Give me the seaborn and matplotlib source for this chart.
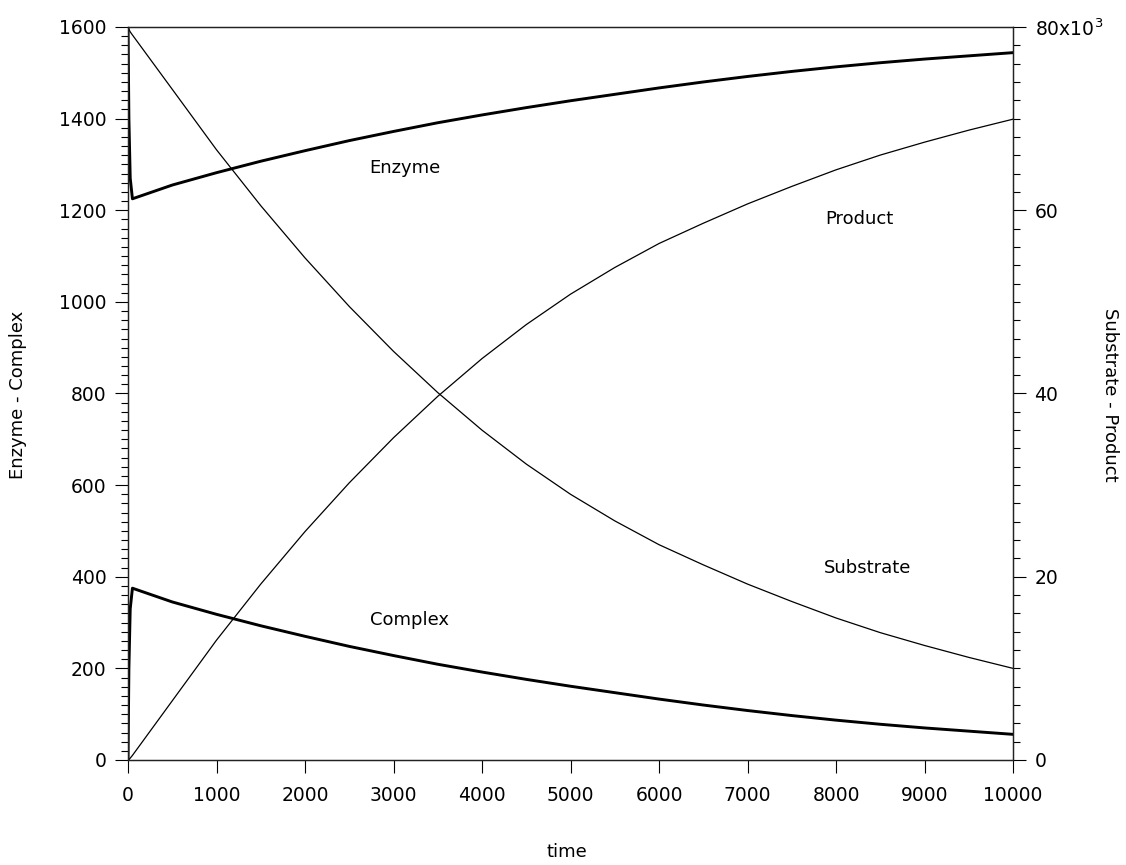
import matplotlib
matplotlib.use("Agg")
import matplotlib.pyplot as plt
from matplotlib.ticker import MultipleLocator, FixedLocator, FixedFormatter
import pandas as pd
import seaborn as sns

# Simulated enzyme kinetics: E + S <-> C -> E + P
time = [0, 10, 25, 50, 500, 1000, 1500, 2000, 2500, 3000, 3500, 4000,
        4500, 5000, 5500, 6000, 6500, 7000, 7500, 8000, 8500, 9000, 9500, 10000]
enzyme = [1600, 1400, 1270, 1225, 1255, 1282, 1307, 1330, 1352, 1372, 1391, 1408,
          1424, 1439, 1453, 1467, 1480, 1492, 1503, 1513, 1522, 1530, 1537, 1544]
complex_ = [0, 200, 330, 375, 345, 318, 293, 270, 248, 228, 209, 192,
            176, 161, 147, 133, 120, 108, 97, 87, 78, 70, 63, 56]
substrate = [80000, 79750, 79470, 79130, 73200, 66600, 60500, 54800, 49500, 44600,
             40100, 36000, 32300, 29000, 26100, 23500, 21300, 19200, 17300, 15500,
             13900, 12500, 11200, 10000]
product = [0, 50, 200, 500, 6460, 13080, 19200, 24930, 30250, 35170, 39690, 43810,
           47520, 50840, 53750, 56370, 58580, 60690, 62600, 64410, 66020, 67430,
           68740, 69940]

left_ticks = [0, 200, 400, 600, 800, 1000, 1200, 1400, 1600]
right_ticks = [0, 20000, 40000, 60000, 80000]
right_tick_labels = ["0", "20", "40", "60", r"80x10$^3$"]
x_ticks = [0, 1000, 2000, 3000, 4000, 5000, 6000, 7000, 8000, 9000, 10000]

curve_labels = ["Enzyme", "Product", "Substrate", "Complex"]
label_pos = [(3124, 1293), (8260, 1181), (8356, 419), (3186, 306)]

df = pd.DataFrame({"time": time, "enzyme": enzyme, "complex": complex_,
                   "substrate": substrate, "product": product})

sns.set_style("ticks")
plt.rcParams["font.family"] = ["DejaVu Sans"]
plt.rcParams["mathtext.fontset"] = "dejavusans"
plt.rcParams["text.color"] = "black"
plt.rcParams["axes.labelcolor"] = "black"
plt.rcParams["xtick.color"] = "black"
plt.rcParams["ytick.color"] = "black"

fig = plt.figure(figsize=(11.26, 8.65), dpi=100)
ax = fig.add_axes([0.11368, 0.12139, 0.78597, 0.84740])
ax2 = ax.twinx()

sns.lineplot(data=df, x="time", y="enzyme", ax=ax, color="black", lw=2.1,
             estimator=None, sort=False)
sns.lineplot(data=df, x="time", y="complex", ax=ax, color="black", lw=2.1,
             estimator=None, sort=False)
sns.lineplot(data=df, x="time", y="substrate", ax=ax2, color="black", lw=0.9,
             estimator=None, sort=False)
sns.lineplot(data=df, x="time", y="product", ax=ax2, color="black", lw=0.9,
             estimator=None, sort=False)

ax.set_xlim(0, 10000)
ax.set_ylim(0, 1600)
ax2.set_ylim(0, 80000)

ax.set_xlabel("")
ax.set_ylabel("")
ax2.set_ylabel("")

ax.xaxis.set_major_locator(FixedLocator(x_ticks))
ax.set_xticklabels([str(t) for t in x_ticks])
ax.yaxis.set_major_locator(FixedLocator(left_ticks))
ax.set_yticklabels([str(t) for t in left_ticks])
ax.yaxis.set_minor_locator(MultipleLocator(20))
ax2.yaxis.set_major_locator(FixedLocator(right_ticks))
ax2.yaxis.set_major_formatter(FixedFormatter(right_tick_labels))
ax2.yaxis.set_minor_locator(MultipleLocator(2000))

for a in (ax, ax2):
    for sp in a.spines.values():
        sp.set_visible(True)
        sp.set_linewidth(0.9)
        sp.set_color("#222222")

ax.tick_params(axis="x", which="major", direction="out", length=9.5, width=0.8,
               labelsize=13.5, pad=9, colors="black", top=False)
ax.tick_params(axis="y", which="major", direction="out", length=9.5, width=0.8,
               labelsize=13.5, pad=6, colors="black")
ax.tick_params(axis="y", which="minor", direction="out", length=5, width=0.8,
               colors="black")
ax2.tick_params(axis="y", which="major", direction="out", length=9.5, width=0.8,
                labelsize=13.5, pad=6, colors="black")
ax2.tick_params(axis="y", which="minor", direction="out", length=5, width=0.8,
                colors="black")

for text, (tx, ty) in zip(curve_labels, label_pos):
    ax.text(tx, ty, text, ha="center", va="center", fontsize=13, color="black")

fig.text(18 / 1126, 1 - 395 / 865, "Enzyme - Complex", rotation=90,
         ha="center", va="center", fontsize=13)
fig.text(1110 / 1126, 1 - 395 / 865, "Substrate - Product", rotation=270,
         ha="center", va="center", fontsize=13)
fig.text(567 / 1126, 1 - 852 / 865, "time", ha="center", va="center", fontsize=13)

fig.savefig("out.png", dpi=100, facecolor="white")
